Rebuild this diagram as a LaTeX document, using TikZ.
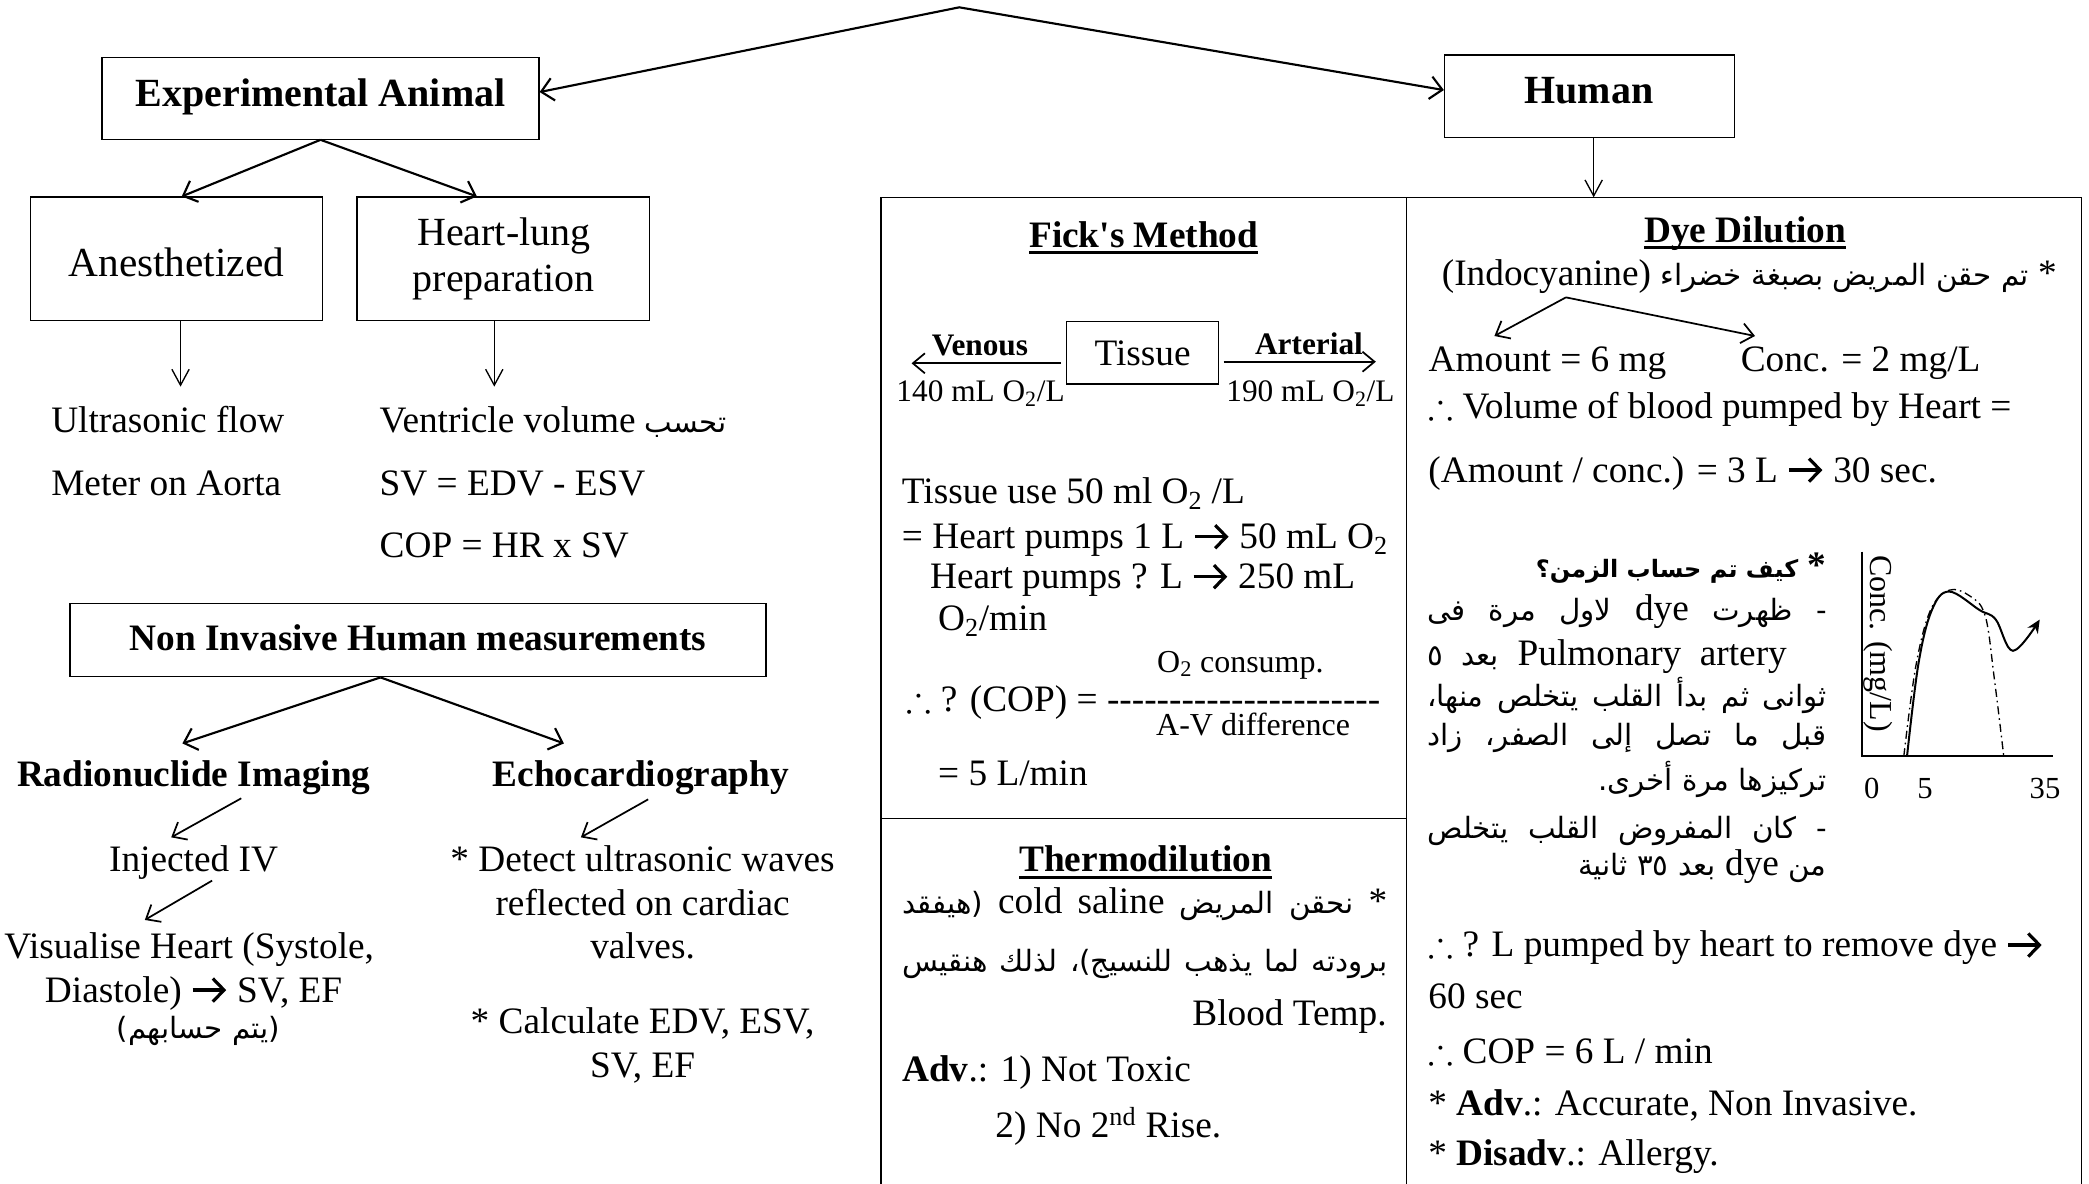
\documentclass[tikz,border=0pt]{standalone}
\usepackage{fontspec}
\usepackage{amssymb}
\setmainfont{Liberation Serif}
\newfontfamily\arabicfont[Script=Arabic]{DejaVu Sans}
\TeXXeTstate=1
\usetikzlibrary{arrows.meta}

\newcommand\fsz[1]{\fontsize{#1}{#1}\selectfont}
\newcommand\ar[1]{{\arabicfont\fsz{22}#1}}
\newcommand\Otwo{O\textsubscript{2}}
\newcommand\ulhead[1]{\setbox0=\hbox{\bfseries #1}\rlap{\rule[-5.5pt]{\wd0}{2.3pt}}\box0}
\newcommand\rarr{\tikz[baseline=0pt]\draw[line width=0.085em,-{Straight Barb[length=0.3em,width=0.62em,line width=0.085em]}] (0,0.32em) -- (0.9em,0.32em);}
\newcommand\thus{$\therefore$}

\begin{document}
\begin{tikzpicture}[x=1pt,y=-1pt,font=\fsz{28},
  box/.style={draw,line width=0.9pt,inner sep=0pt},
  txt/.style={inner sep=0pt,anchor=base,yshift=-1.5pt},
  txtl/.style={inner sep=0pt,anchor=base west,yshift=-1.5pt},
  txtr/.style={inner sep=0pt,anchor=base east,yshift=-1.5pt},
  link/.style={line width=1.6pt,-{Straight Barb[length=9pt,width=17pt]}},
  slink/.style={line width=1pt,-{Straight Barb[length=12pt,width=13pt]}},
  mlink/.style={line width=1.3pt,-{Straight Barb[length=9pt,width=15pt]}},
  frame/.style={line width=0.9pt}]
\fill[white] (0,0) rectangle (1568,888);
\useasboundingbox (0,0) rectangle (1568,888);

% ---- top split ----
\coordinate (apex) at (720,5.5);
\node[box,minimum width=328pt,minimum height=61.6pt] (ea) at (240.6,73.7) {};
\node[txt] (eat) at (240.6,78.8) {\fsz{30}\bfseries Experimental Animal};
\node[box,minimum width=217.4pt,minimum height=61.8pt] (hu) at (1192.9,72.2) {};
\node[txt] (hut) at (1192.7,76.3) {\fsz{30}\bfseries Human};
\draw[line width=1.6pt,{Straight Barb[length=9pt,width=17pt]}-{Straight Barb[length=9pt,width=17pt]}]
  ([yshift=4.6pt]ea.east) -- (apex) -- ([yshift=4.6pt]hu.west);

% ---- experimental animal ----
\node[box,minimum width=218.8pt,minimum height=92.5pt] (an) at (132.4,194.15) {};
\node[txt] (ant) at (132.4,205.9) {\fsz{31}Anesthetized};
\node[box,minimum width=219.3pt,minimum height=92.5pt] (hl) at (377.65,194.15) {};
\node[txt] (hlt1) at (378.2,182.4) {\fsz{30}Heart-lung};
\node[txt] (hlt2) at (378.2,217) {\fsz{30}preparation};
\draw[link] (ea.south) -- ([xshift=4pt]an.north);
\draw[link] (ea.south) -- ([xshift=-19.65pt]hl.north);
\coordinate (anend) at (135.5,290.2);
\coordinate (hlend) at (371,290.2);
\draw[slink] ([xshift=3.1pt]an.south) -- (anend);
\draw[slink] ([xshift=-6.65pt]hl.south) -- (hlend);
\node[txtl] (us1) at (38.3,323.4) {Ultrasonic flow};
\node[txtl] (us2) at (38.3,370.3) {Meter on Aorta};
\node[txtl] (vv) at (284.8,323.4) {Ventricle volume \ar{\beginR تحسب\endR}};
\node[txtl] (sv) at (284.8,370.3) {SV = EDV - ESV};
\node[txtl] (cop) at (284.8,417.3) {COP = HR x SV};

% ---- non invasive ----
\node[box,minimum width=522.4pt,minimum height=55.1pt] (ni) at (313.8,480.45) {};
\node[txt] (nit) at (313.8,486.6) {\bfseries Non Invasive Human measurements};
\node[txt] (ri) at (145.4,589.2) {\bfseries Radionuclide Imaging};
\node[txt] (ec) at (481,589) {\bfseries Echocardiography};
\coordinate (rihead) at (136.9,558);
\coordinate (echead) at (423.3,558);
\draw[link] ([xshift=-28.2pt]ni.south) -- (rihead);
\draw[link] ([xshift=-28.2pt]ni.south) -- (echead);

\coordinate (r1a) at (181.1,599.2); \coordinate (r1b) at (128.5,628.5);
\draw[mlink] (r1a) -- (r1b);
\node[txt] (inj) at (145.3,653) {Injected IV};
\coordinate (r2a) at (159.2,661); \coordinate (r2b) at (108.7,690.5);
\draw[mlink] (r2a) -- (r2b);
\node[txt] (vis1) at (142,718) {Visualise Heart (Systole,};
\node[txt] (vis2) at (145.3,750.6) {Diastole) \rarr{} SV, EF};
\node[txt] (vis3) at (149,778) {\ar{\beginR (يتم حسابهم)\endR}};

\coordinate (e1a) at (486.5,600); \coordinate (e1b) at (436,628.5);
\draw[mlink] (e1a) -- (e1b);
\node[txt] (ec1) at (482.3,653) {* Detect ultrasonic waves};
\node[txt] (ec2) at (482.3,685.6) {reflected on cardiac};
\node[txt] (ec3) at (482.3,718) {valves.};
\node[txt] (ec4) at (482.3,774.4) {* Calculate EDV, ESV,};
\node[txt] (ec5) at (482.3,806.9) {SV, EF};

% ---- human methods table ----
\coordinate (fbl) at (661.3,890); \coordinate (ftl) at (661.3,148.1);
\coordinate (ftr) at (1562.5,148.1); \coordinate (fbr) at (1562.5,890);
\draw[frame] (fbl) -- (ftl) -- (ftr) -- (fbr);
\coordinate (dvt) at (1055.7,148.1); \coordinate (dvb) at (1055.7,890);
\draw[frame] (dvt) -- (dvb);
\coordinate (hdl) at (661.3,614.5); \coordinate (hdr) at (1055.7,614.5);
\draw[frame] (hdl) -- (hdr);
\coordinate (hend) at (1196.2,148.1);
\draw[slink] ([xshift=3.3pt]hu.south) -- (hend);

% Fick's method
\node[txt] (fk) at (858.5,183.9) {\ulhead{Fick\textquotesingle s Method}};
\node[box,minimum width=113.8pt,minimum height=46.8pt] (tis) at (857.6,264.9) {Tissue};
\coordinate (venend) at (684.2,272.7);
\coordinate (artend) at (1032.7,271.5);
\draw[mlink] ([shift={(-3.7pt,-7.8pt)}]tis.west) -- (venend);
\draw[mlink] ([shift={(3.5pt,-6.6pt)}]tis.east) -- (artend);
\node[txt] (vt) at (735.5,265) {\fsz{23.5}\bfseries Venous};
\node[txt] (vc) at (736,300) {\fsz{23.5}140 mL \Otwo/L};
\node[txt] (at) at (982.5,264.7) {\fsz{23.5}\bfseries Arterial};
\node[txt] (ac) at (983.6,300) {\fsz{23.5}190 mL \Otwo/L};
\node[txtl] (f1) at (676.8,376.5) {Tissue use 50 ml \Otwo{} /L};
\node[txtl] (f2) at (676.8,410.3) {= Heart pumps 1 L \rarr{} 50 mL \Otwo};
\node[txtl] (f3) at (697.9,440.3) {Heart pumps ? L \rarr{} 250 mL};
\node[txtl] (f4) at (704,471.6) {\Otwo/min};
\node[txt] (f5) at (931,502.9) {\fsz{24}\Otwo{} consump.};
\node[txtl] (f6) at (680.4,532.9) {\thus{} ? (COP) = -{}-{}-{}-{}-{}-{}-{}-{}-{}-{}-{}-{}-{}-{}-{}-{}-{}-{}-{}-{}-{}-};
\node[txt] (f7) at (940.6,550.5) {\fsz{24}A-V difference};
\node[txtl] (f8) at (704,588) {= 5 L/min};

% Thermodilution
\node[txt] (th) at (860,653) {\ulhead{Thermodilution}};
\node[txtl] (t1) at (677,684.3) {\hbox to 364pt{\beginR * \ar{نحقن المريض} \beginL cold saline\endL{} \ar{(هيفقد}\endR}};
\node[txtl] (t2) at (677,728) {\hbox to 364pt{\beginR\ar{برودته لما يذهب للنسيج)، لذلك هنقيس}\endR}};
\node[txtr] (t3) at (1041,768) {Blood Temp.};
\node[txtl] (t4) at (677,810.6) {\textbf{Adv}.: 1) Not Toxic};
\node[txtl] (t5) at (747,852) {2) No 2\textsuperscript{nd} Rise.};

% Dye dilution
\node[txt] (dd) at (1310,180.2) {\ulhead{Dye Dilution}};
\node[txt] (d1) at (1313,212.7) {\beginR * \ar{تم حقن المريض بصبغة خضراء} (Indocyanine)\endR};
\coordinate (dap) at (1175.4,223.2);
\coordinate (dal) at (1121.7,252.2);
\coordinate (dar) at (1317.3,252.2);
\draw[mlink] (dap) -- (dal);
\draw[mlink] (dap) -- (dar);
\node[txtl] (d2) at (1072.2,277.7) {Amount = 6 mg};
\node[txtl] (d3) at (1306.4,277.7) {Conc. = 2 mg/L};
\node[txtl] (d4) at (1072,312.3) {\thus{} Volume of blood pumped by Heart =};
\node[txtl] (d5) at (1072,360.3) {(Amount / conc.) = 3 L \rarr{} 30 sec.};

\node[txtr] (q0) at (1371,432) {\bfseries\beginR * {\arabicfont\fsz{18}كيف تم حساب الزمن؟}\endR};
\node[txtl] (q1) at (1071,464) {\hbox to 300pt{\beginR\ar{- ظهرت} dye \ar{لاول مرة فى}\endR}};
\node[txtl] (q2) at (1071,498) {\hbox to 300pt{\beginR\hskip 30pt\beginL Pulmonary artery\endL{} \ar{بعد ٥}\endR}};
\node[txtl] (q3) at (1071,528.5) {\hbox to 300pt{\beginR\ar{ثوانى ثم بدأ القلب يتخلص منها،}\endR}};
\node[txtl] (q4) at (1071,558) {\hbox to 300pt{\beginR\ar{قبل ما تصل إلى الصفر، زاد}\endR}};
\node[txtr] (q5) at (1371,592) {\beginR\ar{تركيزها مرة أخرى.}\endR};
\node[txtl] (q6) at (1071,627.5) {\hbox to 300pt{\beginR\ar{- كان المفروض القلب يتخلص}\endR}};
\node[txtr] (q7) at (1371,655.5) {\beginR\ar{من} dye \ar{بعد ٣٥ ثانية}\endR};

% concentration curve
\coordinate (gtop) at (1397.6,414);
\coordinate (gorg) at (1397.6,567.6);
\coordinate (gend) at (1541,567.6);
\draw[line width=1.2pt] (gtop) -- (gorg) -- (gend);
\draw[line width=1.5pt,-{Stealth[length=10pt,width=9pt]}] plot[smooth,tension=0.6] coordinates
  {(1431.4,567.6) (1440,498) (1450,458) (1463,444) (1486,458) (1498,465) (1511,488.5) (1531,465)};
\draw[line width=1pt,dash pattern=on 6pt off 3pt on 1.2pt off 3pt] plot[smooth,tension=0.6] coordinates
  {(1429,567.6) (1438,500) (1449,458) (1463,443) (1478,447) (1490,462) (1497,510) (1504,567.6)};
\node[rotate=-90,inner sep=0pt] (gyl) at (1410,483) {\fsz{24}Conc. (mg/L)};
\node[txt] (g0) at (1405,598) {\fsz{23}0};
\node[txt] (g5) at (1445,598) {\fsz{23}5};
\node[txt] (g35) at (1535,598) {\fsz{23}35};

\node[txtl] (b1) at (1072,716.8) {\thus{} ? L pumped by heart to remove dye \rarr};
\node[txtl] (b2) at (1072,755.6) {60 sec};
\node[txtl] (b3) at (1072,796.9) {\thus{} COP = 6 L / min};
\node[txtl] (b4) at (1072,835.6) {* \textbf{Adv}.: Accurate, Non Invasive.};
\node[txtl] (b5) at (1072,873.2) {* \textbf{Disadv}.: Allergy.};
\end{tikzpicture}
\end{document}
